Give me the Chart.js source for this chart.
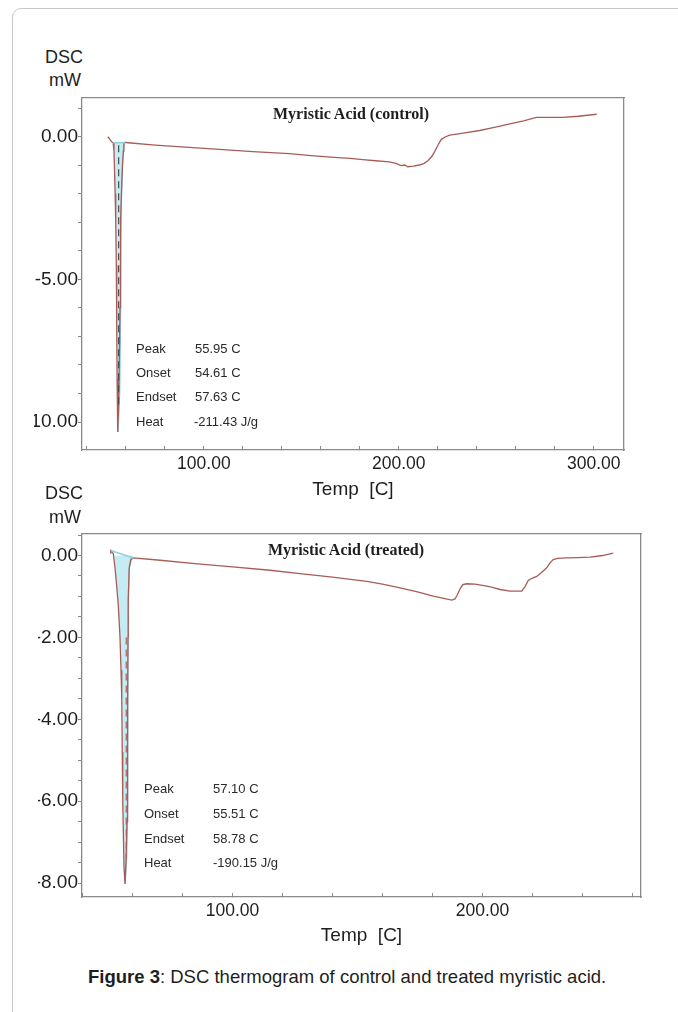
<!DOCTYPE html>
<html>
<head>
<meta charset="utf-8">
<script src="https://cdn.jsdelivr.net/npm/chart.js@4.4.1/dist/chart.umd.min.js"></script>
<style>
  html, body { margin: 0; padding: 0; background: #fff; }
  body { width: 678px; height: 1012px; position: relative; overflow: hidden;
         font-family: "Liberation Sans", Arial, sans-serif; color: #1e1e1e; }
  .frame { position: absolute; left: 12px; top: 8px; width: 720px; height: 1100px;
           border: 1.5px solid #c8c8c8; border-radius: 9px; }
  .box { position: absolute; }
  .unit { position: absolute; width: 44px; text-align: center; font-size: 18px; line-height: 20px; }
  .plot-title { position: absolute; font-family: "Liberation Serif", "Times New Roman", serif;
                font-weight: bold; font-size: 16px; line-height: 20px; white-space: nowrap; }
  .ann { position: absolute; font-size: 13px; line-height: 15px; white-space: nowrap; color: #2a2a2a; }
  .caption { position: absolute; left: 88px; top: 966px; font-size: 18.5px; line-height: 22px; white-space: nowrap; }
</style>
</head>
<body>
<div class="frame"></div>

<div class="unit" style="left:42px;top:47px">DSC</div>
<div class="unit" style="left:43px;top:70px">mW</div>
<div class="box" style="left:34px;top:86px;width:644px;height:424px"><canvas id="control-chart"></canvas></div>
<div class="plot-title" style="left:273px;top:104px">Myristic Acid (control)</div>
<div class="ann" style="left:136px;top:341px">Peak</div>
<div class="ann" style="left:195px;top:341px">55.95 C</div>
<div class="ann" style="left:136px;top:365px">Onset</div>
<div class="ann" style="left:195px;top:365px">54.61 C</div>
<div class="ann" style="left:136px;top:389px">Endset</div>
<div class="ann" style="left:195px;top:389px">57.63 C</div>
<div class="ann" style="left:136px;top:414px">Heat</div>
<div class="ann" style="left:194px;top:414px">-211.43 J/g</div>

<div class="unit" style="left:42px;top:483px">DSC</div>
<div class="unit" style="left:43px;top:507px">mW</div>
<div class="box" style="left:38px;top:522px;width:640px;height:430px"><canvas id="treated-chart"></canvas></div>
<div class="plot-title" style="left:268px;top:540px">Myristic Acid (treated)</div>
<div class="ann" style="left:144px;top:781px">Peak</div>
<div class="ann" style="left:213px;top:781px">57.10 C</div>
<div class="ann" style="left:144px;top:806px">Onset</div>
<div class="ann" style="left:213px;top:806px">55.51 C</div>
<div class="ann" style="left:144px;top:831px">Endset</div>
<div class="ann" style="left:213px;top:831px">58.78 C</div>
<div class="ann" style="left:144px;top:855px">Heat</div>
<div class="ann" style="left:213px;top:855px">-190.15 J/g</div>

<div class="caption"><b>Figure 3</b>: DSC thermogram of control and treated myristic acid.</div>

<script>
// ─── Control (top) ───────────────────────────────────────────────────────────
const controlTemp = [50.7, 51.5, 52.3, 53.0, 53.5, 53.9, 54.1, 54.5, 54.8, 55.1, 55.3, 55.5, 55.7, 55.95,
  56.2, 56.6, 57.0, 57.2, 57.4, 57.8, 58.3, 58.7, 59.0, 59.5, 61.2, 75, 92.5, 110, 125, 143.8, 155,
  166.9, 175, 181.5, 188, 195.2, 198.5, 201.2, 203, 204.6, 207.5, 210.6, 213, 214.9, 216.8, 218.4,
  220.2, 221.8, 224, 226.1, 233, 241.5, 249, 256.9, 264, 270.6, 277, 284.3, 292, 301.5];
const controlDsc = [0.0, -0.06, -0.14, -0.19, -0.21, -0.5, -1.0, -2.0, -3.0, -4.5, -6.5, -8.5, -9.8, -10.35,
  -9.6, -8.0, -6.0, -4.5, -3.0, -1.8, -1.0, -0.5, -0.21, -0.2, -0.21, -0.29, -0.37, -0.45, -0.52, -0.59, -0.66,
  -0.72, -0.76, -0.80, -0.84, -0.88, -0.93, -1.01, -0.99, -1.05, -1.03, -0.99, -0.93, -0.84, -0.7, -0.52,
  -0.28, -0.09, 0.0, 0.06, 0.13, 0.22, 0.33, 0.45, 0.56, 0.68, 0.68, 0.68, 0.72, 0.79];
const controlEdgeTemp = [59.0, 58.2, 57.6, 57.3, 57.2, 56.8, 56.0];
const controlEdgeDsc = [-0.21, -1.0, -2.5, -4.5, -7.0, -9.0, -10.35];
const controlBaseTemp = [53.5, 59.5];
const controlBaseDsc = [-0.21, -0.21];
const controlMarkTemp = [56.3, 56.3];
const controlMarkDsc = [-0.3, -9.4];
const controlXTicks = [40, 60, 80, 100, 120, 140, 160, 180, 200, 220, 240, 260, 280, 300];
const controlXLabels = [100, 200, 300];
const controlYTicks = [-10, -9, -8, -7, -6, -5, -4, -3, -2, -1, 0, 1];
const controlYLabels = [0, -5, -10];

// ─── Treated (bottom) ────────────────────────────────────────────────────────
const treatedTemp = [51.1, 51.3, 51.6, 52.0, 52.3, 53.0, 53.6, 54.3, 55.0, 55.4, 55.7, 55.9, 56.1, 56.4, 56.6,
  57.0, 57.4, 57.8, 58.0, 58.1, 58.2, 58.3, 58.7, 59.3, 60.3, 70, 85, 100, 115, 127, 140, 153.7, 160, 167,
  174, 180.3, 184, 187.7, 189, 189.7, 191, 192.1, 193.7, 197, 201.7, 204, 207, 211, 213, 215.7, 217, 218.3,
  220, 221.7, 223.5, 225.7, 227, 228.3, 230, 233.7, 238, 243, 248, 252.3];
const treatedDsc = [0.06, 0.12, 0.1, 0.07, 0.05, -0.3, -0.7, -1.2, -2.0, -2.8, -3.5, -4.8, -6.0, -7.0, -7.6,
  -8.02, -7.5, -6.5, -5.0, -3.6, -2.0, -1.1, -0.3, -0.1, -0.06, -0.11, -0.2, -0.28, -0.36, -0.44, -0.53, -0.63,
  -0.70, -0.79, -0.89, -0.99, -1.04, -1.09, -1.06, -0.99, -0.82, -0.71, -0.69, -0.70, -0.75, -0.78, -0.83,
  -0.87, -0.87, -0.87, -0.76, -0.61, -0.55, -0.51, -0.42, -0.3, -0.18, -0.1, -0.07, -0.06, -0.05, -0.04,
  0.0, 0.06];
const treatedEdgeTemp = [59.7, 58.7, 58.3, 58.1, 58.0, 57.7, 57.0];
const treatedEdgeDsc = [-0.06, -0.3, -1.1, -3.6, -6.0, -7.3, -8.02];
const treatedBaseTemp = [51.3, 60.3];
const treatedBaseDsc = [0.12, -0.06];
const treatedMarkTemp = [57.5, 57.5];
const treatedMarkDsc = [-2.0, -7.4];
const treatedXTicks = [40, 60, 80, 100, 120, 140, 160, 180, 200, 220, 240, 260];
const treatedXLabels = [100, 200];
const treatedYTicks = [-8, -7.5, -7, -6.5, -6, -5.5, -5, -4.5, -4, -3.5, -3, -2.5, -2, -1.5, -1, -0.5, 0, 0.5];
const treatedYLabels = [0, -2, -4, -6, -8];

const RED = '#a65d58';
const CYAN = '#88d3df';
const FILL = 'rgba(192, 233, 241, 0.9)';
const AXIS = '#8a8a8a';
const INK = '#1e1e1e';

Chart.defaults.font.family = '"Liberation Sans", Arial, sans-serif';

const pts = (xs, ys) => xs.map((x, i) => ({ x, y: ys[i] }));
const fmt2 = v => v.toFixed(2);

function frameAxis(position, horizontal) {
  return {
    type: 'linear', position,
    ticks: { display: false },
    grid: { drawOnChartArea: false, drawTicks: false },
    border: { color: AXIS, width: 1.3 },
    afterFit: sc => { if (horizontal) sc.height = 0; else sc.width = 0; },
  };
}

function dscChart(id, s) {
  const curve = pts(s.temp, s.dsc);
  const peak = curve.filter(p => p.x >= s.peakFrom && p.x <= s.peakTo);
  return new Chart(document.getElementById(id), {
    type: 'line',
    data: {
      datasets: [
        { data: peak, fill: { value: s.fillTo }, backgroundColor: FILL, borderWidth: 0, order: 4 },
        { data: curve, borderColor: RED, borderWidth: 1.3, fill: false, order: 2 },
        { data: pts(s.edgeTemp, s.edgeDsc), borderColor: CYAN, borderWidth: 1.4, fill: false, order: 3 },
        { data: pts(s.baseTemp, s.baseDsc), borderColor: CYAN, borderWidth: 1.6, fill: false, order: 1 },
        { data: pts(s.markTemp, s.markDsc), borderColor: s.markColor, borderWidth: 1.2,
          borderDash: [7, 5], fill: false, order: 0 },
      ],
    },
    options: {
      animation: false,
      responsive: true,
      maintainAspectRatio: false,
      layout: { padding: s.pad },
      elements: { point: { radius: 0 }, line: { tension: 0 } },
      plugins: { legend: { display: false }, tooltip: { enabled: false } },
      scales: {
        x: {
          type: 'linear', position: 'bottom', min: s.xMin, max: s.xMax,
          afterBuildTicks: sc => { sc.ticks = s.xTicks.map(value => ({ value })); },
          afterFit: sc => { sc.height = s.xHeight; },
          ticks: {
            autoSkip: false, maxRotation: 0, padding: 8, color: INK, font: { size: 17.5 },
            callback: v => s.xLabels.includes(v) ? fmt2(v) : '',
          },
          grid: { drawOnChartArea: false, tickLength: -4, tickColor: AXIS, tickWidth: 1 },
          border: { color: AXIS, width: 1.3 },
          title: { display: true, text: 'Temp  [C]', color: INK, font: { size: 19 },
                   padding: { top: 0, bottom: s.titlePad } },
        },
        y: {
          type: 'linear', position: 'left', min: s.yMin, max: s.yMax,
          afterBuildTicks: sc => { sc.ticks = s.yTicks.map(value => ({ value })); },
          afterFit: sc => { sc.width = s.yWidth; },
          ticks: {
            autoSkip: false, padding: 0, color: INK, font: { size: 19 },
            callback: v => s.yLabels.includes(v) ? fmt2(v) : '',
          },
          grid: { drawOnChartArea: false, tickLength: 4, tickColor: AXIS, tickWidth: 1 },
          border: { color: AXIS, width: 1.3 },
        },
        xTop: frameAxis('top', true),
        yRight: frameAxis('right', false),
      },
    },
  });
}

dscChart('control-chart', {
  temp: controlTemp, dsc: controlDsc, peakFrom: 53.5, peakTo: 59.0, fillTo: -0.21,
  edgeTemp: controlEdgeTemp, edgeDsc: controlEdgeDsc,
  baseTemp: controlBaseTemp, baseDsc: controlBaseDsc,
  markTemp: controlMarkTemp, markDsc: controlMarkDsc, markColor: '#4a4a4a',
  xMin: 37.5, xMax: 315.5, xTicks: controlXTicks, xLabels: controlXLabels,
  yMin: -10.98, yMax: 1.38, yTicks: controlYTicks, yLabels: controlYLabels,
  pad: { top: 6, right: 54, bottom: 0, left: 0 }, yWidth: 48, xHeight: 60, titlePad: 9,
});

dscChart('treated-chart', {
  temp: treatedTemp, dsc: treatedDsc, peakFrom: 52.3, peakTo: 60.3, fillTo: 0,
  edgeTemp: treatedEdgeTemp, edgeDsc: treatedEdgeDsc,
  baseTemp: treatedBaseTemp, baseDsc: treatedBaseDsc,
  markTemp: treatedMarkTemp, markDsc: treatedMarkDsc, markColor: '#b0605a',
  xMin: 39.8, xMax: 263.4, xTicks: treatedXTicks, xLabels: treatedXLabels,
  yMin: -8.34, yMax: 0.54, yTicks: treatedYTicks, yLabels: treatedYLabels,
  pad: { top: 6, right: 37, bottom: 0, left: 0 }, yWidth: 44, xHeight: 55, titlePad: 5,
});
</script>
</body>
</html>
